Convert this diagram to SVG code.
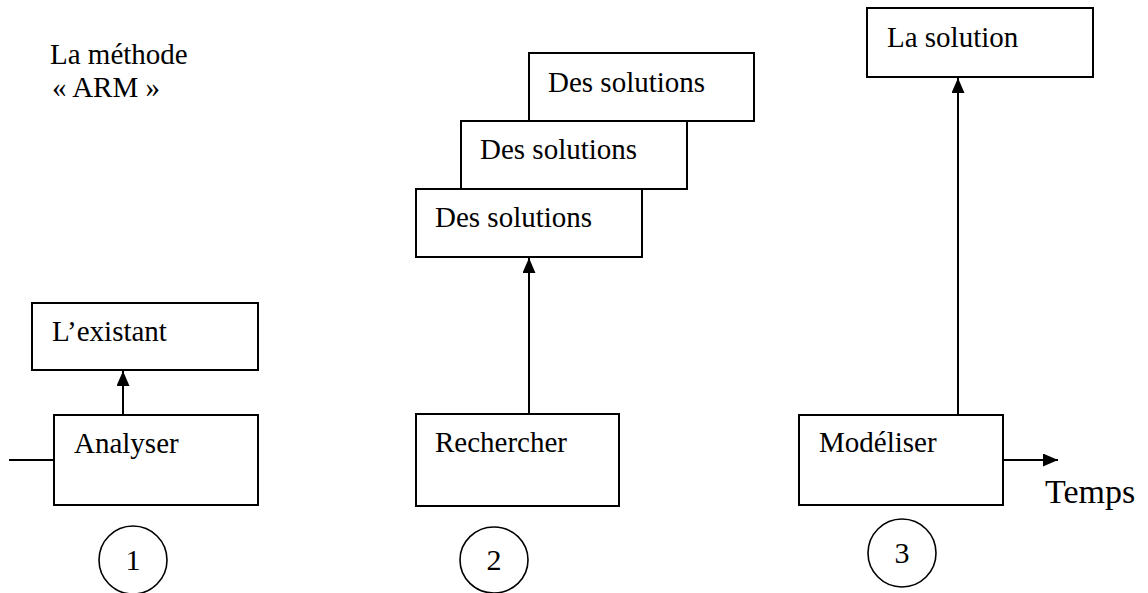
<svg xmlns="http://www.w3.org/2000/svg" width="1148" height="593" viewBox="0 0 1148 593">
<defs>
<marker id="ah" markerUnits="userSpaceOnUse" markerWidth="15" markerHeight="13" refX="15" refY="6.5" orient="auto">
<path d="M0,0 L15,6.5 L0,13 z" fill="#000"/>
</marker>
</defs>
<style>
.box{fill:#fff;stroke:#000;stroke-width:2}
text{font-family:'Liberation Serif','Times New Roman','DejaVu Serif',serif;font-size:29px;fill:#000}
.big{font-size:34px}
.num{font-size:30px}
.ln{stroke:#000;stroke-width:2;fill:none}
.c{fill:#fff;stroke:#000;stroke-width:1.6}
</style>
<rect width="1148" height="593" fill="#fff"/>
<g id="title" font-family="Liberation Serif, serif">
<text x="50" y="64">La méthode</text>
<text x="52" y="97">« ARM »</text>
</g>
<g id="connectors">
<line class="ln" x1="9" y1="460" x2="54" y2="460"/>
<line class="ln" x1="123" y1="415" x2="123" y2="371" marker-end="url(#ah)"/>
<line class="ln" x1="529" y1="414" x2="529" y2="258" marker-end="url(#ah)"/>
<line class="ln" x1="958" y1="415" x2="958" y2="78" marker-end="url(#ah)"/>
<line class="ln" x1="1003" y1="460" x2="1058" y2="460" marker-end="url(#ah)"/>
</g>
<g id="existant">
<rect class="box" x="32" y="303" width="226" height="67"/>
<text x="52" y="341">L’existant</text>
</g>
<g id="analyser">
<rect class="box" x="54" y="415" width="204" height="90"/>
<text x="74" y="453">Analyser</text>
</g>
<g id="step1">
<ellipse class="c" cx="133" cy="560" rx="34" ry="34"/>
<text class="num" x="133" y="570" text-anchor="middle">1</text>
</g>
<g id="solutions3">
<rect class="box" x="529" y="53" width="225" height="68"/>
<text x="548" y="92">Des solutions</text>
</g>
<g id="solutions2">
<rect class="box" x="461" y="121" width="226" height="68"/>
<text x="480" y="159">Des solutions</text>
</g>
<g id="solutions1">
<rect class="box" x="416" y="189" width="226" height="68"/>
<text x="435" y="227">Des solutions</text>
</g>
<g id="rechercher">
<rect class="box" x="416" y="414" width="203" height="92"/>
<text x="435" y="452">Rechercher</text>
</g>
<g id="step2">
<ellipse class="c" cx="494" cy="560" rx="34" ry="33"/>
<text class="num" x="494" y="570" text-anchor="middle">2</text>
</g>
<g id="lasolution">
<rect class="box" x="867" y="8" width="226" height="69"/>
<text x="887" y="47">La solution</text>
</g>
<g id="modeliser">
<rect class="box" x="799" y="415" width="204" height="90"/>
<text x="819" y="452">Modéliser</text>
</g>
<g id="temps">
<text class="big" x="1045" y="503">Temps</text>
</g>
<g id="step3">
<ellipse class="c" cx="902" cy="553" rx="34" ry="34"/>
<text class="num" x="902" y="563" text-anchor="middle">3</text>
</g>
</svg>
